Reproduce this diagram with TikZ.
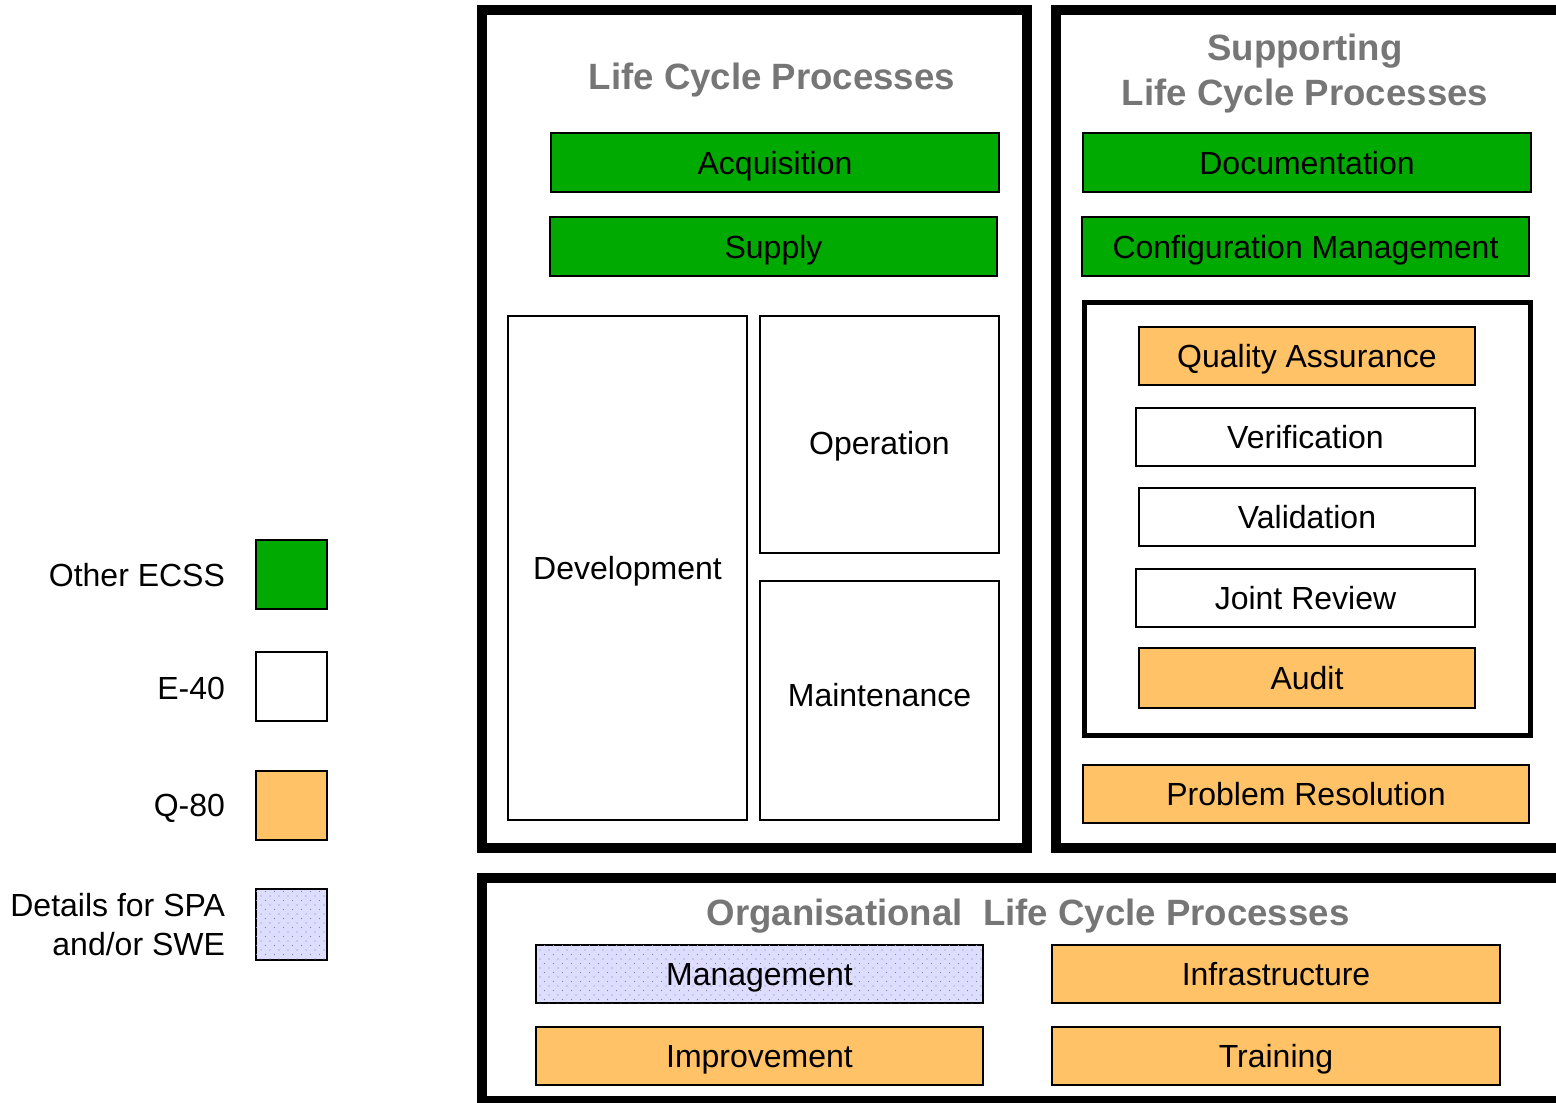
\documentclass[tikz,border=0pt]{standalone}
\usepackage{fontspec}
\setmainfont{Liberation Sans}
\usetikzlibrary{patterns.meta}
\definecolor{ecssgreen}{RGB}{0, 170, 0}
\definecolor{qorange}{RGB}{255, 194, 102}
\definecolor{spalav}{RGB}{221, 221, 255}
\definecolor{spadot}{RGB}{130, 130, 170}
\definecolor{titlegray}{RGB}{118, 118, 118}

\tikzset{
  procbox/.style={draw=black, line width=2pt, rectangle, inner sep=0pt,
    text height=28pt, text depth=5pt,
    font=\fontsize{32}{38}\selectfont},
  greenbox/.style={procbox, fill=ecssgreen},
  orangebox/.style={procbox, fill=qorange},
  whitebox/.style={procbox, fill=white},
  dotbox/.style={procbox, fill=spalav,
    postaction={pattern={Dots[distance=9pt, radius=0.7pt]}, pattern color=spadot},
    postaction={pattern={Dots[distance=9pt, radius=0.7pt, xshift=4.5pt, yshift=4.5pt]}, pattern color=spadot}},
  grouptitle/.style={text=titlegray, font=\fontsize{36.6}{45}\selectfont\bfseries, align=center},
  legendtext/.style={anchor=east, font=\fontsize{32}{39}\selectfont, align=right}
}

\begin{document}
\begin{tikzpicture}[x=1pt, y=-1pt]
\useasboundingbox (0,0) rectangle (1556,1103);
\clip (0,0) rectangle (1556,1103);

% Outer frames (cut by the page on the right and below)
\draw[line width=10pt] (482,10) rectangle (1027,848);
\draw[line width=10pt] (1056,10) rectangle (1564,848);
\draw[line width=10pt] (482,878) rectangle (1564,1101);
\draw[line width=5pt] (1084.5,302.5) rectangle (1530.5,735.5);

% Titles
\node[grouptitle] (lcp) at (772,80) {Life Cycle Processes};
\node[grouptitle] (slcp) at (1305,74) {Supporting\\Life Cycle Processes};
\node[grouptitle] (olcp) at (1028,916) {Organisational\ \ Life Cycle Processes};

% Primary processes
\node[greenbox, minimum width=448pt, minimum height=59pt] (acq) at (775,162.5) {Acquisition};
\node[greenbox, minimum width=447pt, minimum height=59pt] (sup) at (773.5,246.5) {Supply};
\node[whitebox, minimum width=239pt, minimum height=504pt] (dev) at (627.5,568) {Development};
\node[whitebox, minimum width=239pt, minimum height=237pt, text height=45pt] (ops) at (879.5,434.5) {Operation};
\node[whitebox, minimum width=239pt, minimum height=239pt, text depth=16pt] (mnt) at (879.5,700.5) {Maintenance};

% Supporting processes
\node[greenbox, minimum width=448pt, minimum height=59pt] (doc) at (1307,162.5) {Documentation};
\node[greenbox, minimum width=447pt, minimum height=59pt] (cfg) at (1305.5,246.5) {Configuration Management};
\node[orangebox, minimum width=336pt, minimum height=58pt] (qa) at (1307,356) {Quality Assurance};
\node[whitebox, minimum width=339pt, minimum height=58pt] (ver) at (1305.5,437) {Verification};
\node[whitebox, minimum width=336pt, minimum height=58pt] (val) at (1307,517) {Validation};
\node[whitebox, minimum width=339pt, minimum height=58pt] (jr) at (1305.5,598) {Joint Review};
\node[orangebox, minimum width=336pt, minimum height=60pt] (aud) at (1307,678) {Audit};
\node[orangebox, minimum width=446pt, minimum height=58pt] (prb) at (1306,794) {Problem Resolution};

% Organisational processes
\node[dotbox, minimum width=447pt, minimum height=58pt] (mgt) at (759.5,974) {Management};
\node[orangebox, minimum width=448pt, minimum height=58pt] (inf) at (1276,974) {Infrastructure};
\node[orangebox, minimum width=447pt, minimum height=58pt] (imp) at (759.5,1056) {Improvement};
\node[orangebox, minimum width=448pt, minimum height=58pt] (trn) at (1276,1056) {Training};

% Legend
\node[greenbox, minimum width=71pt, minimum height=69pt] (keyecss) at (291.5,574.5) {};
\node[whitebox, minimum width=71pt, minimum height=69pt] (keye) at (291.5,686.5) {};
\node[orangebox, minimum width=71pt, minimum height=69pt] (keyq) at (291.5,805.5) {};
\node[dotbox, minimum width=71pt, minimum height=71pt] (keyspa) at (291.5,924.5) {};
\node[legendtext] (lblecss) at (228.5,575) {Other ECSS};
\node[legendtext] (lble) at (228.5,688) {E-40};
\node[legendtext] (lblq) at (228.5,808) {Q-80};
\node[legendtext] (lblspa) at (228.5,925) {Details for SPA\\and/or SWE};
\end{tikzpicture}
\end{document}
